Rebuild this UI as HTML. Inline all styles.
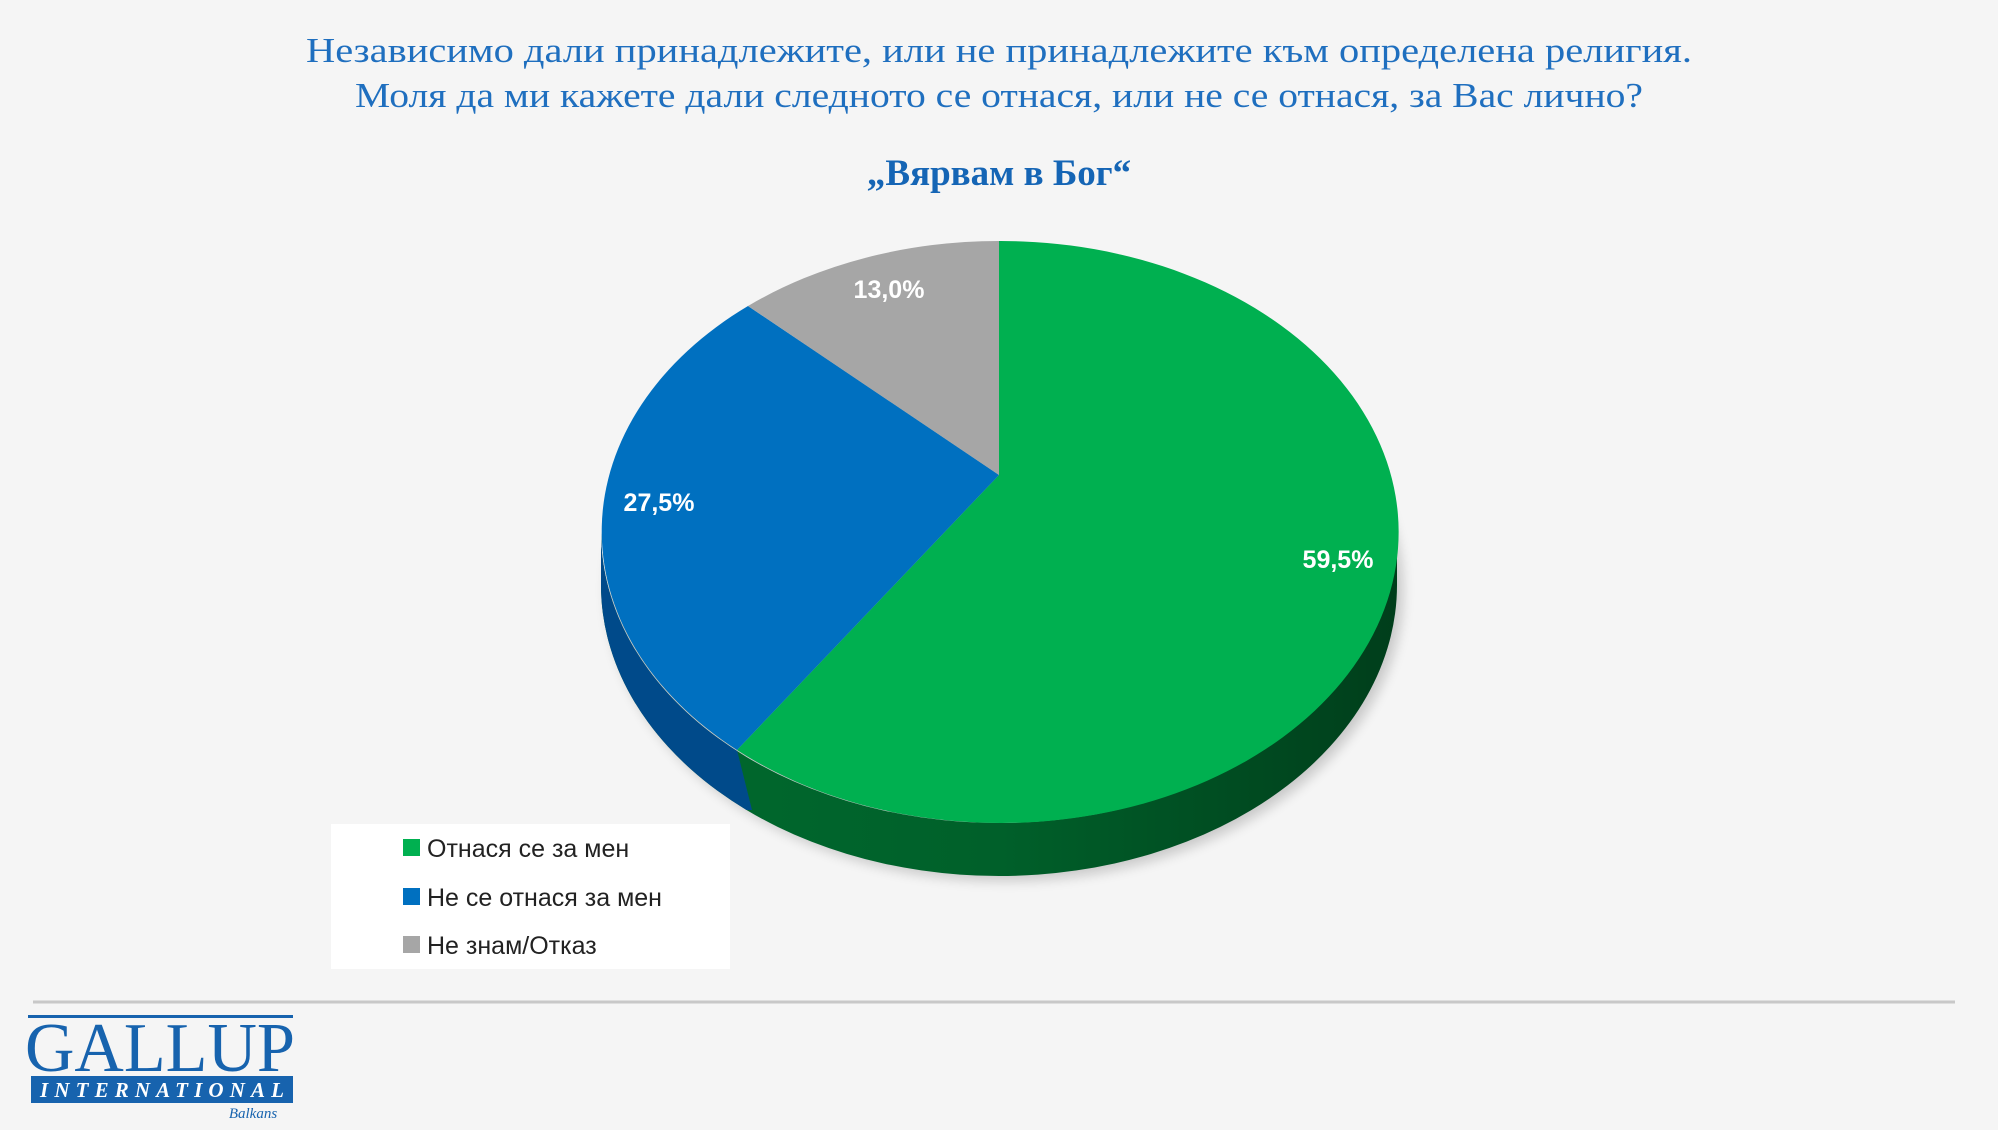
<!DOCTYPE html>
<html><head><meta charset="utf-8"><style>
body{margin:0;background:#f5f5f5;}
</style></head><body>
<svg width="1998" height="1125" viewBox="0 0 1998 1125" xmlns="http://www.w3.org/2000/svg">
<defs>
<linearGradient id="gs" x1="0" x2="1" y1="0" y2="0">
<stop offset="0" stop-color="#006a2e"/><stop offset="0.5" stop-color="#00602a"/><stop offset="1" stop-color="#003e1b"/></linearGradient>
<clipPath id="cb"><polygon points="560,480 748,480 737,750 752,810 560,810"/></clipPath>
<filter id="sh" x="-10%" y="-10%" width="120%" height="130%"><feGaussianBlur stdDeviation="6"/></filter>
</defs>
<rect width="1998" height="1125" fill="#f5f5f5"/>
<g font-family="Liberation Serif, serif" fill="#1f6fbf" text-anchor="middle">
<text x="999" y="62" font-size="35" textLength="1386" lengthAdjust="spacingAndGlyphs">Независимо дали принадлежите, или не принадлежите към определена религия.</text>
<text x="999" y="107" font-size="35" textLength="1288" lengthAdjust="spacingAndGlyphs">Моля да ми кажете дали следното се отнася, или не се отнася, за Вас лично?</text>
<text x="999" y="185" font-size="37" font-weight="bold" fill="#1565b5">„Вярвам в Бог“</text>
</g>
<ellipse cx="1005" cy="590" rx="398" ry="291" fill="#000" opacity="0.18" filter="url(#sh)"/>
<path d="M601,532 L601,585 A398,291 0 0,0 1397,585 L1397,532 A398,291 0 0,1 601,532 Z" fill="url(#gs)"/>
<path d="M601,532 L601,585 A398,291 0 0,0 1397,585 L1397,532 A398,291 0 0,1 601,532 Z" fill="#004a8a" clip-path="url(#cb)"/>
<path d="M999,475 L999,241 A398,291 0 1,1 737,750 Z" fill="#00b050"/>
<path d="M999,475 L737,750 A398,291 0 0,1 748,306 Z" fill="#0070c0"/>
<path d="M999,475 L748,306 A398,291 0 0,1 999,241 Z" fill="#a6a6a6"/>
<g font-family="Liberation Sans, sans-serif" font-weight="bold" font-size="25" fill="#fff" text-anchor="middle">
<text x="889" y="298">13,0%</text>
<text x="659" y="511">27,5%</text>
<text x="1338" y="568">59,5%</text>
</g>
<rect x="331" y="824" width="399" height="145" fill="#fff"/>
<g font-family="Liberation Sans, sans-serif" font-size="25" fill="#222">
<rect x="403" y="839" width="17" height="17" fill="#00b050"/><text x="427" y="857">Отнася се за мен</text>
<rect x="403" y="888" width="17" height="17" fill="#0070c0"/><text x="427" y="906">Не се отнася за мен</text>
<rect x="403" y="936" width="17" height="17" fill="#a6a6a6"/><text x="427" y="954">Не знам/Отказ</text>
</g>
<line x1="33" y1="1002" x2="1955" y2="1002" stroke="#c8c8c8" stroke-width="3"/>
<rect x="28" y="1015" width="265" height="3" fill="#1763ae"/>
<text x="160" y="1071" font-family="Liberation Serif, serif" font-size="70" fill="#1763ae" text-anchor="middle" textLength="270" lengthAdjust="spacingAndGlyphs">GALLUP</text>
<rect x="31" y="1076" width="262" height="27" fill="#1763ae"/>
<text x="162" y="1097" font-family="Liberation Serif, serif" font-style="italic" font-weight="bold" font-size="21" fill="#fff" text-anchor="middle" textLength="244" lengthAdjust="spacing">INTERNATIONAL</text>
<text x="253" y="1118" font-family="Liberation Serif, serif" font-style="italic" font-size="15" fill="#1763ae" text-anchor="middle">Balkans</text>
</svg>
</body></html>
